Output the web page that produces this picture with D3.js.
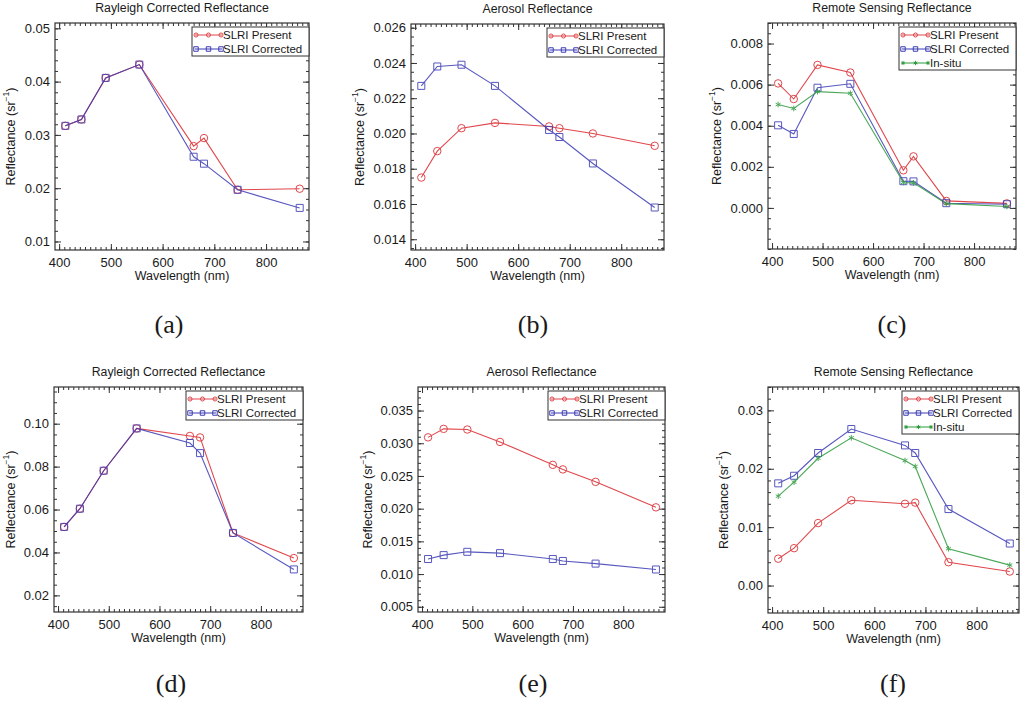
<!DOCTYPE html>
<html>
<head>
<meta charset="utf-8">
<script src="https://cdn.jsdelivr.net/npm/d3@7"></script>
<style>
  body { margin: 0; background: #fff; }
  text { font-family: "Liberation Sans", Arial, sans-serif; fill: #1a1a1a; }
</style>
</head>
<body>
<script>
// wavelengths of the 8 bands (nm)
const wavelengths = [412, 443, 490, 555, 660, 680, 745, 865];
const xTickValues = [400, 500, 600, 700, 800];

const seriesNames = ['SLRI Present', 'SLRI Corrected', 'In-situ'];
const panelTitles = ['Rayleigh Corrected Reflectance', 'Aerosol Reflectance', 'Remote Sensing Reflectance',
                     'Rayleigh Corrected Reflectance', 'Aerosol Reflectance', 'Remote Sensing Reflectance'];
const captionLabels = ['(a)', '(b)', '(c)', '(d)', '(e)', '(f)'];

// (a)
const presentA = [0.0317, 0.0329, 0.0407, 0.0432, 0.0279, 0.0294, 0.0197, 0.0199];
const correctedA = [0.0317, 0.0329, 0.0407, 0.0432, 0.0259, 0.0246, 0.0197, 0.0163];
const yTicksA = [0.01, 0.02, 0.03, 0.04, 0.05];
// (b)
const presentB = [0.0175, 0.0190, 0.0203, 0.0206, 0.0204, 0.0203, 0.0200, 0.0193];
const correctedB = [0.0227, 0.0238, 0.0239, 0.0227, 0.0202, 0.0198, 0.0183, 0.0158];
const yTicksB = [0.014, 0.016, 0.018, 0.020, 0.022, 0.024, 0.026];
// (c)
const presentC = [0.00606, 0.00530, 0.00696, 0.00659, 0.00183, 0.00251, 0.00034, 0.00022];
const correctedC = [0.00402, 0.00360, 0.00585, 0.00604, 0.00130, 0.00129, 0.00023, 0.00018];
const insituC = [0.00503, 0.00484, 0.00566, 0.00558, 0.00124, 0.00122, 0.00021, 0.00007];
const yTicksC = [0.000, 0.002, 0.004, 0.006, 0.008];
// (d)
const presentD = [0.0519, 0.0604, 0.0781, 0.0978, 0.0943, 0.0936, 0.0491, 0.0374];
const correctedD = [0.0519, 0.0604, 0.0781, 0.0978, 0.0910, 0.0863, 0.0491, 0.0321];
const yTicksD = [0.02, 0.04, 0.06, 0.08, 0.10];
// (e)
const presentE = [0.0309, 0.0322, 0.0321, 0.0302, 0.0267, 0.0260, 0.0241, 0.0202];
const correctedE = [0.0123, 0.0129, 0.0134, 0.0132, 0.0123, 0.0120, 0.0116, 0.0107];
const yTicksE = [0.005, 0.010, 0.015, 0.020, 0.025, 0.030, 0.035];
// (f)
const presentF = [0.0046, 0.0064, 0.0107, 0.0146, 0.0140, 0.0142, 0.0040, 0.0024];
const correctedF = [0.0175, 0.0188, 0.0227, 0.0268, 0.0240, 0.0227, 0.0131, 0.0072];
const insituF = [0.0153, 0.0177, 0.0218, 0.0253, 0.0214, 0.0204, 0.0063, 0.0035];
const yTicksF = [0.00, 0.01, 0.02, 0.03];

const colors = ['#e0474c', '#3b3bb5', '#2b9a3c'];
const symbols = [d3.symbolCircle, d3.symbolSquare, d3.symbolAsterisk];
const symSize = [44, 49, 22];
const legSymSize = [13, 20, 12];

const xDomain = [392, 883];

const panels = [
  {series: [presentA, correctedA], yTicks: yTicksA, fmt: '.2f', minor: 0.002, yDomain: [0.0084, 0.051],
   left: 55, right: 309, top: 23, bottom: 250, ylabX: 11, capX: 169, capY: 333},
  {series: [presentB, correctedB], yTicks: yTicksB, fmt: '.3f', minor: 0.0005, yDomain: [0.01339, 0.02621],
   left: 411, right: 664, top: 24, bottom: 250, ylabX: 360, capX: 533, capY: 333},
  {series: [presentC, correctedC, insituC], yTicks: yTicksC, fmt: '.3f', minor: 0.0005, yDomain: [-0.002, 0.009],
   left: 768, right: 1016, top: 23, bottom: 249, ylabX: 717, capX: 892, capY: 333},
  {series: [presentD, correctedD], yTicks: yTicksD, fmt: '.2f', minor: 0.005, yDomain: [0.01226, 0.1171],
   left: 54, right: 303, top: 387, bottom: 612, ylabX: 11, capX: 171, capY: 692},
  {series: [presentE, correctedE], yTicks: yTicksE, fmt: '.3f', minor: 0.001, yDomain: [0.0042, 0.0386],
   left: 418, right: 665, top: 387, bottom: 612, ylabX: 368, capX: 533, capY: 692},
  {series: [presentF, correctedF, insituF], yTicks: yTicksF, fmt: '.2f', minor: 0.002, yDomain: [-0.0047, 0.034],
   left: 768, right: 1019, top: 387, bottom: 613, ylabX: 724, capX: 893, capY: 692}
];

const svg = d3.select('body').append('svg')
  .attr('width', 1024)
  .attr('height', 701);

function stepValues(domain, step) {
  const lo = Math.ceil(domain[0] / step - 1e-9), hi = Math.floor(domain[1] / step + 1e-9);
  return d3.range(lo, hi + 1).map(i => +(i * step).toFixed(6));
}

function styleAxis(sel) {
  sel.attr('color', '#333');
  sel.select('.domain').remove();
  sel.selectAll('text')
    .attr('font-size', 13)
    .attr('font-family', '"Liberation Sans", Arial, sans-serif')
    .attr('fill', '#1a1a1a');
}

panels.forEach((p, i) => {
  const g = svg.append('g');
  const x = d3.scaleLinear().domain(xDomain).range([p.left, p.right]);
  const y = d3.scaleLinear().domain(p.yDomain).range([p.bottom, p.top]);

  const xMinor = stepValues(xDomain, 10);
  const yMinor = stepValues(p.yDomain, p.minor);

  // minor ticks on all four sides
  g.append('g').attr('transform', `translate(0,${p.bottom})`)
    .call(d3.axisBottom(x).tickValues(xMinor).tickSize(-3).tickFormat('')).call(styleAxis);
  g.append('g').attr('transform', `translate(0,${p.top})`)
    .call(d3.axisTop(x).tickValues(xMinor).tickSize(-3).tickFormat('')).call(styleAxis);
  g.append('g').attr('transform', `translate(${p.left},0)`)
    .call(d3.axisLeft(y).tickValues(yMinor).tickSize(-3).tickFormat('')).call(styleAxis);
  g.append('g').attr('transform', `translate(${p.right},0)`)
    .call(d3.axisRight(y).tickValues(yMinor).tickSize(-3).tickFormat('')).call(styleAxis);

  // major ticks
  g.append('g').attr('transform', `translate(0,${p.bottom})`)
    .call(d3.axisBottom(x).tickValues(xTickValues).tickSize(-6).tickPadding(7.5).tickFormat(d3.format('d')))
    .call(styleAxis);
  g.append('g').attr('transform', `translate(0,${p.top})`)
    .call(d3.axisTop(x).tickValues(xTickValues).tickSize(-6).tickFormat('')).call(styleAxis);
  g.append('g').attr('transform', `translate(${p.left},0)`)
    .call(d3.axisLeft(y).tickValues(p.yTicks).tickSize(-6).tickPadding(5).tickFormat(d3.format(p.fmt)))
    .call(styleAxis);
  g.append('g').attr('transform', `translate(${p.right},0)`)
    .call(d3.axisRight(y).tickValues(p.yTicks).tickSize(-6).tickFormat('')).call(styleAxis);

  // frame
  g.append('rect')
    .attr('x', p.left).attr('y', p.top)
    .attr('width', p.right - p.left).attr('height', p.bottom - p.top)
    .attr('fill', 'none').attr('stroke', '#333').attr('stroke-width', 1.2);

  // series
  const line = d3.line().x(d => x(d[0])).y(d => y(d[1]));
  p.series.forEach((vals, s) => {
    const pts = wavelengths.map((w, k) => [w, vals[k]]);
    const sg = g.append('g').attr('opacity', s === 0 ? 1 : 0.85);
    sg.append('path').datum(pts)
      .attr('d', line).attr('fill', 'none')
      .attr('stroke', colors[s]).attr('stroke-width', 1.1);
    sg.selectAll('path.m').data(pts).enter().append('path')
      .attr('class', 'm')
      .attr('transform', d => `translate(${x(d[0])},${y(d[1])})`)
      .attr('d', d3.symbol(symbols[s], symSize[s]))
      .attr('fill', 'none').attr('stroke', colors[s]).attr('stroke-width', 1);
  });

  // legend
  const n = p.series.length;
  const lw = 117, lh = 14 * n + 1;
  const lx = p.right - lw, ly = p.top + 4;
  const lg = g.append('g');
  lg.append('rect').attr('x', lx).attr('y', ly).attr('width', lw).attr('height', lh)
    .attr('fill', '#fff').attr('stroke', '#333').attr('stroke-width', 1);
  seriesNames.slice(0, n).forEach((name, s) => {
    const cy = ly + 8 + 14 * s;
    lg.append('line').attr('x1', lx + 3).attr('x2', lx + 30).attr('y1', cy).attr('y2', cy)
      .attr('stroke', colors[s]).attr('stroke-width', 1);
    [4, 16.5, 29].forEach(off => {
      lg.append('path').attr('transform', `translate(${lx + off},${cy})`)
        .attr('d', d3.symbol(symbols[s], legSymSize[s]))
        .attr('fill', 'none').attr('stroke', colors[s]).attr('stroke-width', 1);
    });
    lg.append('text').attr('x', lx + 31).attr('y', cy).attr('dy', '0.36em')
      .attr('font-size', 11.5).text(name);
  });

  // titles and labels
  g.append('text').attr('x', (p.left + p.right) / 2).attr('y', p.top - 11)
    .attr('text-anchor', 'middle').attr('font-size', 12.3).text(panelTitles[i]);
  g.append('text').attr('x', (p.left + p.right) / 2).attr('y', p.bottom + 29.5)
    .attr('text-anchor', 'middle').attr('font-size', 12.5).text('Wavelength (nm)');
  const yl = g.append('text')
    .attr('transform', `translate(${p.ylabX},${(p.top + p.bottom) / 2}) rotate(-90)`)
    .attr('dy', '0.35em').attr('text-anchor', 'middle').attr('font-size', 12.5);
  yl.append('tspan').text('Reflectance (sr');
  yl.append('tspan').attr('font-size', 8.5).attr('dy', '-0.75em').text('\u22121');
  yl.append('tspan').attr('dy', '0.45em').text(')');

  g.append('text').attr('x', p.capX).attr('y', p.capY)
    .attr('text-anchor', 'middle')
    .style('font-family', '"Liberation Serif", "Times New Roman", serif')
    .attr('font-size', 26).text(captionLabels[i]);
});
</script>
</body>
</html>
